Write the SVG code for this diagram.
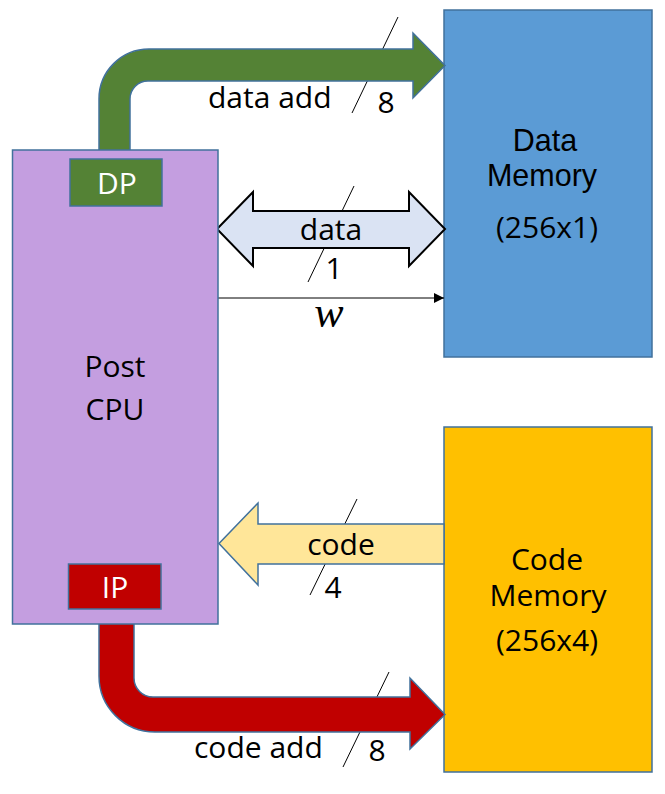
<svg xmlns="http://www.w3.org/2000/svg" width="665" height="794" viewBox="0 0 665 794">
<style>
.box{stroke:#41719c;stroke-width:1.5}
.t{font-family:"Open Sans","Liberation Sans",sans-serif;font-size:30px;fill:#000}
.ta{font-family:"Liberation Sans",Arial,sans-serif;font-size:30.5px;fill:#000}
.w{fill:#fff}
.sl{stroke:#000;stroke-width:1;fill:none}
</style>
<defs>
<marker id="ah" viewBox="0 0 10 10" refX="10" refY="5" markerWidth="11" markerHeight="10" markerUnits="userSpaceOnUse" orient="auto">
<path d="M0,0 L10,5 L0,10 Z" fill="#000"/>
</marker>
</defs>
<rect width="665" height="794" fill="#fff"/>

<g id="data-memory">
<rect class="box" x="444" y="10" width="208" height="347" fill="#5b9bd5"/>
<text class="ta" x="545" y="151" text-anchor="middle">Data</text>
<text class="ta" x="542" y="186" text-anchor="middle">Memory</text>
<text class="t" x="547" y="238" text-anchor="middle">(256x1)</text>
</g>

<g id="code-memory">
<rect class="box" x="444" y="427" width="208" height="345" fill="#ffc000"/>
<text class="t" x="547" y="570" text-anchor="middle">Code</text>
<text class="t" x="548" y="606" text-anchor="middle">Memory</text>
<text class="t" x="547" y="651" text-anchor="middle">(256x4)</text>
</g>

<g id="connectors">
<line class="sl" x1="398" y1="17" x2="352" y2="113"/>
<path class="box" fill="#548235" d="M99,160 L99,99 A50,50 0 0 1 149,49 L413,49 L413,33 L445,65.5 L413,98 L413,81 L148,81 A18,18 0 0 0 130,99 L130,160 Z"/>
<text class="t" x="208" y="108">data add</text>
<text class="t" x="386" y="113" text-anchor="middle">8</text>

<line class="sl" x1="354" y1="186" x2="308" y2="282"/>
<path fill="#dae3f3" stroke="#000" stroke-width="2" d="M217,229 L253,192 L253,211 L409,211 L409,192 L445,229 L409,266 L409,248 L253,248 L253,266 Z"/>
<text class="t" x="331" y="240" text-anchor="middle">data</text>
<text class="t" x="334" y="279" text-anchor="middle">1</text>

<line x1="218" y1="298" x2="444" y2="298" stroke="#000" stroke-width="1" marker-end="url(#ah)"/>
<text x="329" y="327" text-anchor="middle" font-family="Liberation Serif,serif" font-style="italic" font-size="44">w</text>

<line class="sl" x1="357" y1="499" x2="310" y2="595"/>
<path class="box" fill="#ffe699" d="M444,524 L258,524 L258,503 L219,543.5 L258,585 L258,564 L444,564 Z"/>
<text class="t" x="341" y="555" text-anchor="middle">code</text>
<text class="t" x="333" y="598" text-anchor="middle">4</text>

<line class="sl" x1="389" y1="672" x2="343" y2="767"/>
<path class="box" fill="#c00000" d="M99,608 L99,676 A56,56 0 0 0 155,732 L410,732 L410,749 L445,714.5 L410,678 L410,697 L153,697 A19,19 0 0 1 134,678 L134,608 Z"/>
<text class="t" x="194" y="758">code add</text>
<text class="t" x="377" y="761" text-anchor="middle">8</text>
</g>

<g id="post-cpu">
<rect class="box" x="12.5" y="150" width="205.5" height="474" fill="#c49ee0"/>
<text class="t" x="115" y="377" text-anchor="middle">Post</text>
<text class="t" x="115" y="420" text-anchor="middle">CPU</text>
</g>

<g id="dp">
<rect class="box" x="70" y="159" width="92" height="47" fill="#548235"/>
<text class="t w" x="117" y="194" text-anchor="middle">DP</text>
</g>

<g id="ip">
<rect class="box" x="68.5" y="564" width="92.5" height="45" fill="#c00000"/>
<text class="t w" x="115" y="598" text-anchor="middle">IP</text>
</g>
</svg>
